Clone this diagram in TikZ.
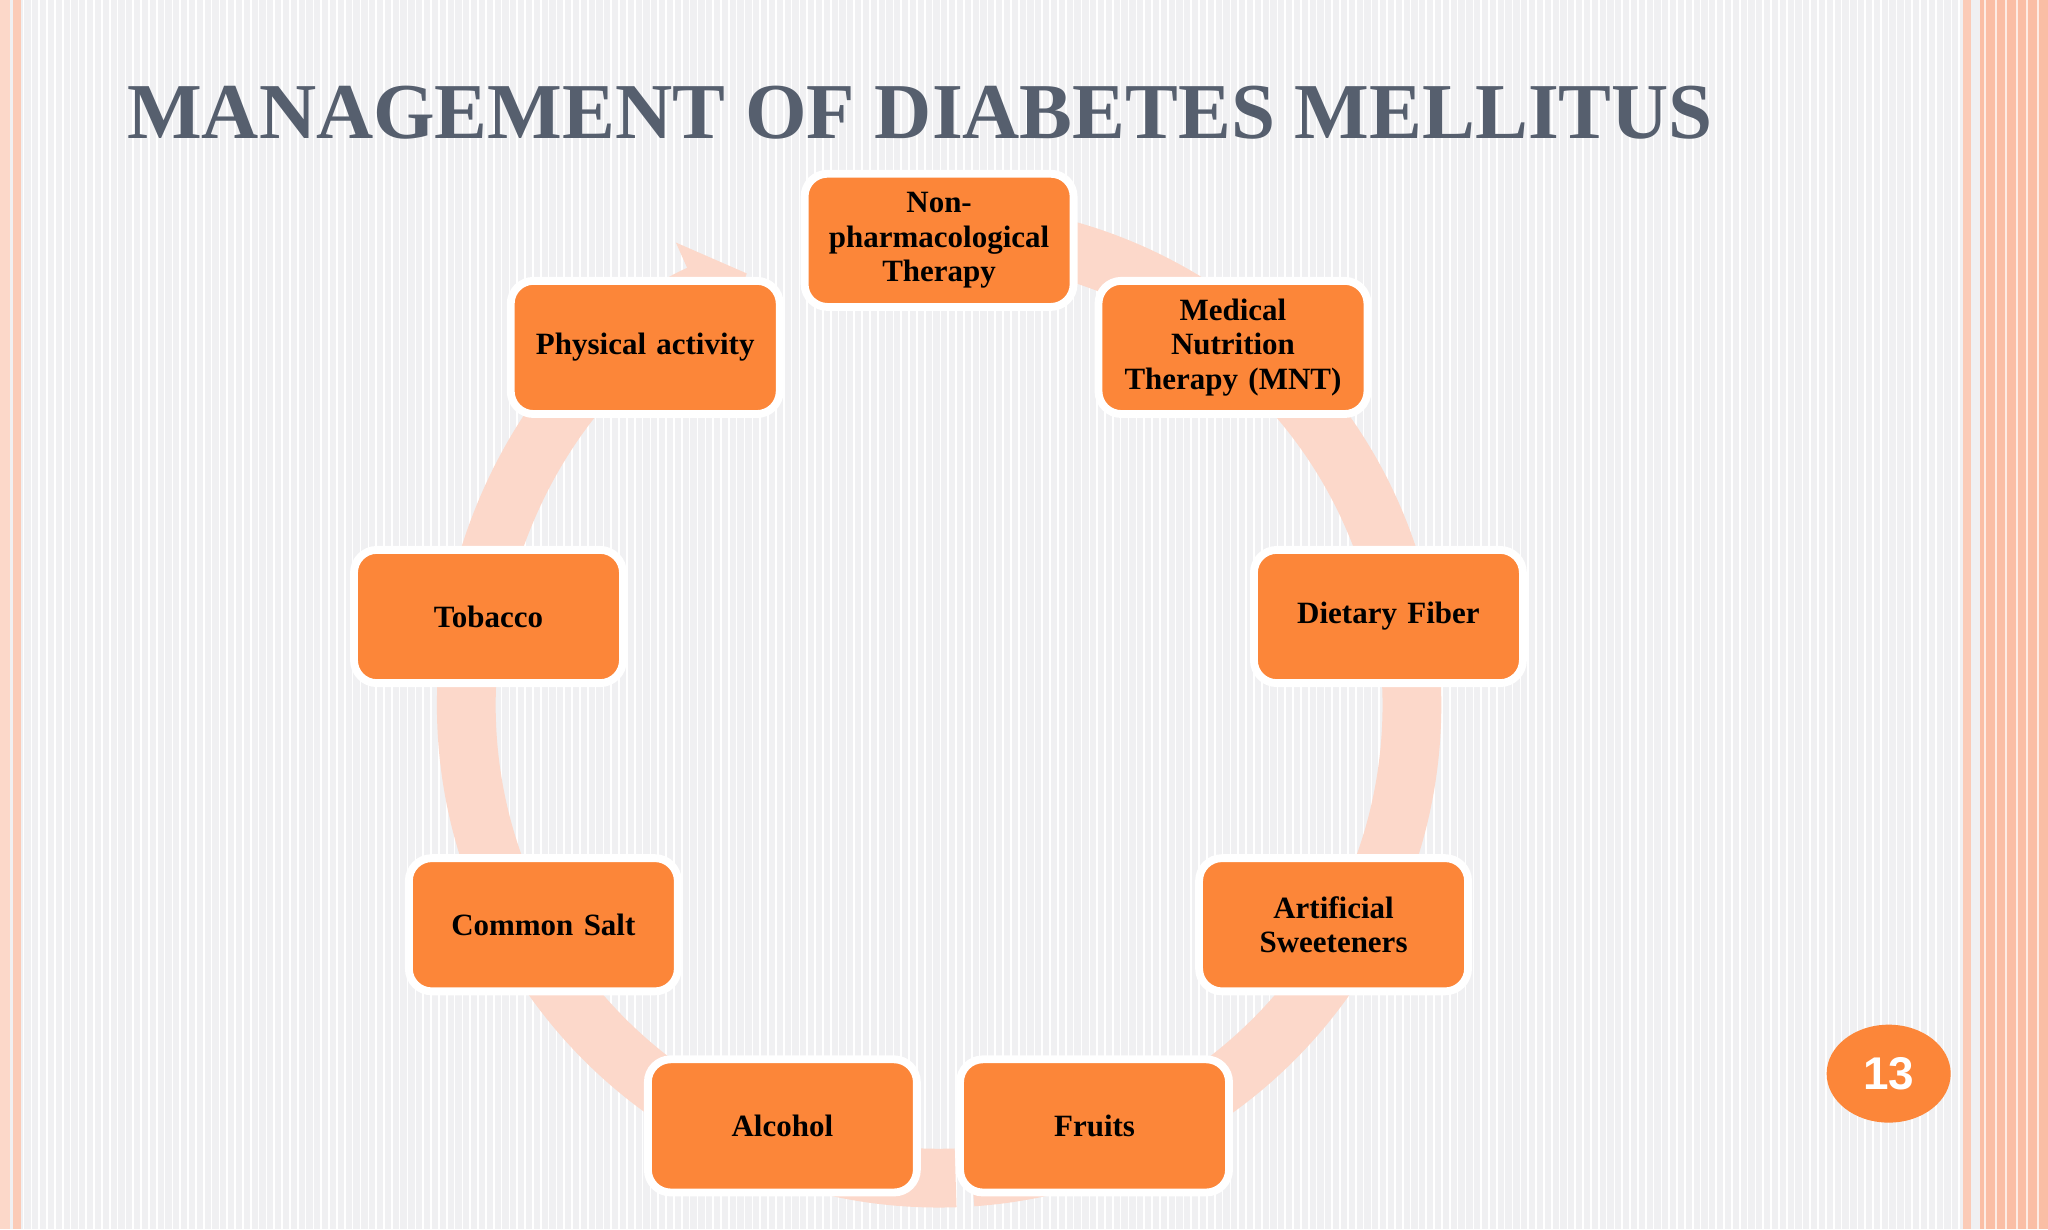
\documentclass[tikz,border=0pt]{standalone}
\usepackage{fontspec}
\setmainfont{Liberation Serif}
\newfontfamily\numfont{Liberation Sans}
\usetikzlibrary{arrows.meta,shapes.geometric}
\definecolor{boxor}{RGB}{252,134,57}
\definecolor{ringc}{RGB}{252,216,202}
\definecolor{titlec}{RGB}{86,95,110}
\definecolor{bgc}{RGB}{240,240,242}
\definecolor{edgec}{RGB}{250,190,165}
\tikzset{
 stepbox/.style={draw=white,line width=1.2mm,fill=boxor,rounded corners=3.5mm,minimum width=4.12cm,minimum height=2.04cm,align=center,font=\fontsize{13.5}{15}\selectfont\bfseries,inner sep=2pt,text width=3.8cm}
}
\begin{document}
\begin{tikzpicture}[x=0.02cm,y=-0.02cm]
\useasboundingbox (0,0) rectangle (1568,941);
\fill[bgc] (0,0) rectangle (1568,941);
\foreach \i in {0,6,...,1500} \draw[white,line width=0.25mm] (\i,0) -- (\i,941);
\fill[edgec!60] (0,0) rectangle (8,941);
\fill[edgec!80] (10,0) rectangle (16,941);
\fill[edgec!80] (1503,0) rectangle (1509,941);
\fill[edgec] (1516,0) rectangle (1568,941);
\foreach \i in {1520,1528,...,1565} \draw[white!70!edgec,line width=0.3mm] (\i,0) -- (\i,941);
\node[anchor=base west,text=titlec,font=\fontsize{34.5}{36}\selectfont\bfseries,inner sep=0] (title) at (97,106) {MANAGEMENT OF DIABETES MELLITUS};
% ring
\draw[ringc,line width=0.9cm,-{Triangle[length=0.8cm,width=1.7cm]}] (719,540) ++(88:362) arc[start angle=88,end angle=246,radius=362];
\draw[ringc,line width=0.9cm] (719,540) ++(-88:362) arc[start angle=-88,end angle=86,radius=362];
\node[stepbox] (a) at (719,184) {Non-\\pharmacological\\Therapy};
\node[stepbox] (b) at (944,266) {Medical\\Nutrition\\Therapy (MNT)};
\node[stepbox] (c) at (1063,472) {Dietary Fiber};
\node[stepbox] (d) at (1021,708) {Artificial\\Sweeteners};
\node[stepbox] (e) at (838,862) {Fruits};
\node[stepbox] (f) at (599,862) {Alcohol};
\node[stepbox] (g) at (416,708) {Common Salt};
\node[stepbox] (h) at (374,472) {Tobacco};
\node[stepbox] (i) at (494,266) {Physical activity};
\node[ellipse,fill=boxor,minimum width=1.9cm,minimum height=1.5cm,text=white,font=\numfont\fontsize{20}{22}\selectfont\bfseries] (pg) at (1446,822) {13};
\end{tikzpicture}
\end{document}
